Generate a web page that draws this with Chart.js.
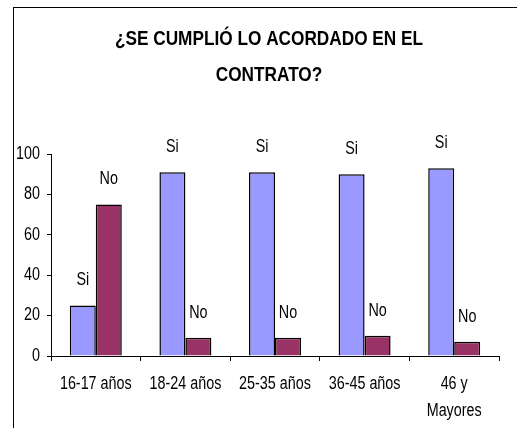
<!DOCTYPE html>
<html>
<head>
<meta charset="utf-8">
<script src="https://cdn.jsdelivr.net/npm/chart.js@4"></script>
<style>
  html, body { margin: 0; padding: 0; background: #fff; }
  #frame {
    position: absolute; left: 13px; top: 7px;
    width: 503px; height: 420px;
    border-left: 1px solid #000; border-top: 1px solid #000;
  }
  #myChart { display: block; }
</style>
</head>
<body>
<div id="frame"><canvas id="myChart" width="503" height="420"></canvas></div>
<script>
const categories = ["16-17 años", "18-24 años", "25-35 años", "36-45 años", ["46 y", "Mayores"]]
const siValues = [25, 91, 91, 90, 93]
const noValues = [75, 9, 9, 10, 7]
const yTicks = [0, 20, 40, 60, 80, 100]
const titleLines = ["¿SE CUMPLIÓ LO ACORDADO EN EL", "CONTRATO?"]

const fontFam = "'Liberation Sans', Arial, sans-serif"
const squeeze = 0.82 // no narrow font installed, so squeeze Arial-like text

function narrowText(ctx, text, x, y, font, align) {
  ctx.save()
  ctx.font = font
  ctx.fillStyle = "#000"
  ctx.textAlign = align
  ctx.textBaseline = "middle"
  ctx.scale(squeeze, 1)
  ctx.fillText(text, x / squeeze, y)
  ctx.restore()
}

// title, axis labels and the Si / No names above every bar
const narrowLabels = {
  id: 'narrowLabels',
  afterDraw(chart) {
    const ctx = chart.ctx
    const area = chart.chartArea
    const xs = chart.scales.x
    const ys = chart.scales.y
    const small = `17.5px ${fontFam}`

    const midX = (area.left + area.right) / 2 - 6
    titleLines.forEach((line, i) => {
      narrowText(ctx, line, midX, 31.5 + i * 36, `bold 21px ${fontFam}`, "center")
    })

    yTicks.forEach((v) => {
      narrowText(ctx, String(v), area.left - 11, ys.getPixelForValue(v), small, "right")
    })

    chart.data.labels.forEach((lab, i) => {
      const lines = Array.isArray(lab) ? lab : [lab]
      lines.forEach((line, j) => {
        narrowText(ctx, line, xs.getPixelForTick(i), area.bottom + 28.5 + j * 27, small, "center")
      })
    })

    chart.data.datasets.forEach((ds, i) => {
      chart.getDatasetMeta(i).data.forEach((bar) => {
        narrowText(ctx, ds.label, bar.x, bar.y - 25, small, "center")
      })
    })
  }
}

new Chart(document.getElementById('myChart'), {
  type: 'bar',
  data: {
    labels: categories,
    datasets: [
      {
        label: "Si",
        data: siValues,
        backgroundColor: "#9999FF",
        borderColor: "#000",
        borderWidth: 1.5,
        categoryPercentage: 0.58,
        barPercentage: 1
      },
      {
        label: "No",
        data: noValues,
        backgroundColor: "#993366",
        borderColor: "#000",
        borderWidth: 1.5,
        categoryPercentage: 0.58,
        barPercentage: 1
      }
    ]
  },
  options: {
    responsive: false,
    animation: false,
    layout: { padding: { left: 0, right: 18, top: 146, bottom: 0 } },
    plugins: {
      legend: { display: false },
      tooltip: { enabled: false },
      title: { display: false }
    },
    scales: {
      x: {
        grid: { drawOnChartArea: false, color: "#000", tickLength: 5, offset: true },
        border: { color: "#000", width: 1 },
        ticks: { color: "rgba(0,0,0,0)", maxRotation: 0, autoSkip: false },
        afterFit(scale) { scale.height = 72 }
      },
      y: {
        min: 0,
        max: 100,
        afterBuildTicks(scale) { scale.ticks = yTicks.map(v => ({ value: v })) },
        grid: { drawOnChartArea: false, color: "#000", tickLength: 4 },
        border: { color: "#000", width: 1 },
        ticks: { color: "rgba(0,0,0,0)" },
        afterFit(scale) { scale.width = 37 }
      }
    }
  },
  plugins: [narrowLabels]
})
</script>
</body>
</html>
